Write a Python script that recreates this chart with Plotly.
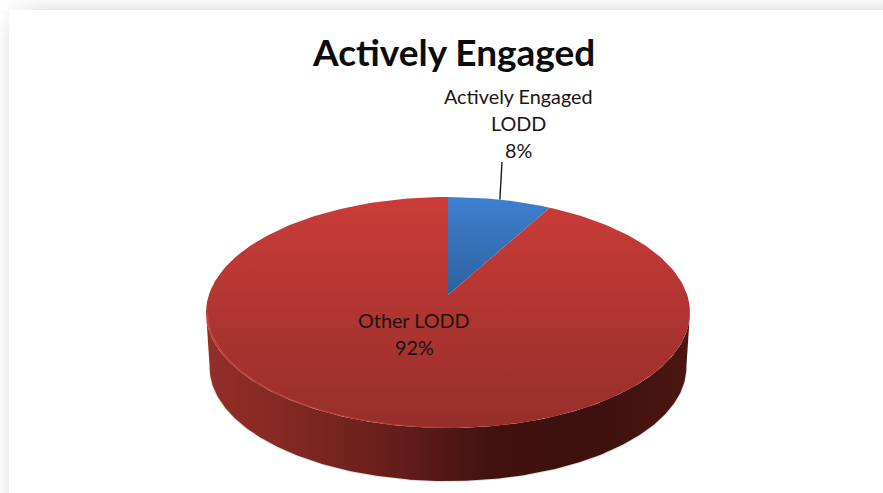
import numpy as np
import plotly.graph_objects as go

# Chart content
title = "Actively Engaged"
categories = ["Actively Engaged LODD", "Other LODD"]
values = [8, 92]
label_lines = [["Actively Engaged", "LODD"], ["Other LODD"]]

# Drawing of the tilted disc, in pixel-like plot units
W, H = 883, 493
CX, HUB_Y = 448, 295
A, B, K = 239.2, 112.9, 0.1515
BASE_Y, BASE_SCALE = 350, 0.985


def project(theta, radius=1.0, hub_y=HUB_Y, scale=1.0):
    """Perspective view of a disc; theta runs clockwise from 12 o'clock."""
    u, v = radius * np.sin(theta), radius * np.cos(theta)
    w = 1 + K * v
    return CX + scale * A * u / w, hub_y - scale * B * v / w


def arc(a0, a1, n=240, **kw):
    return project(np.linspace(a0, a1, n), **kw)


def poly(x, y, stops, kind, start, stop):
    return go.Scatter(
        x=list(x), y=list(y), mode="lines", line=dict(width=0),
        fill="toself",
        fillgradient=dict(type=kind, colorscale=stops, start=start, stop=stop),
        hoverinfo="skip", showlegend=False,
    )


fig = go.Figure()

# Card shadow along the top and left page edges
fig.add_trace(poly([9, W, W, 9, 9], [0, 0, 10, 10, 0],
                   [[0, "#f8f8f8"], [1, "#e9e9e9"]], "vertical", 0, 10))
fig.add_trace(poly([0, 9, 9, 0, 0], [0, 0, H, H, 0],
                   [[0, "#fbfbfb"], [1, "#eeeeee"]], "horizontal", 0, 9))
fig.add_trace(poly([0, 45, 45, 0, 0], [0, 0, 10, 10, 0],
                   [[0, "rgba(255,255,255,0.9)"], [1, "rgba(255,255,255,0)"]],
                   "horizontal", 0, 45))
fig.add_trace(poly([0, 9, 9, 0, 0], [0, 0, 40, 40, 0],
                   [[0, "rgba(255,255,255,0.8)"], [1, "rgba(255,255,255,0)"]],
                   "vertical", 0, 40))

# Slice angles follow the values
shares = np.array(values, dtype=float) / sum(values)
edges = np.concatenate([[0], np.cumsum(shares)]) * 2 * np.pi

# Outer wall: visible part between the two silhouette points of the disc
t_right = np.arccos(-K)
t_left = 2 * np.pi - t_right
tx, ty = arc(t_right, t_left)
bx, by = arc(t_left, t_right, hub_y=BASE_Y, scale=BASE_SCALE)
wall_x = np.concatenate([tx, bx, tx[:1]])
wall_y = np.concatenate([ty, by, ty[:1]])
fig.add_trace(go.Scatter(x=list(bx), y=list(by), mode="lines",
                         line=dict(color="rgba(120,120,120,0.22)", width=2),
                         hoverinfo="skip", showlegend=False))
wall_stops = [
    [0.00, "#942e29"], [0.20, "#7f2722"], [0.42, "#611c19"],
    [0.58, "#43120f"], [0.80, "#3d110e"], [1.00, "#4c1612"],
]
fig.add_trace(poly(wall_x, wall_y, wall_stops, "horizontal", 206, 690))

# Top faces
face_stops = [
    [[0, "#3e80cf"], [1, "#2d619f"]],
    [[0, "#cb3c38"], [0.5, "#b03531"], [1, "#962e2a"]],
]
face_spans = [(197, 296), (197, 428)]
for i in range(len(values)):
    x, y = arc(edges[i], edges[i + 1])
    x = np.concatenate([[CX], x, [CX]])
    y = np.concatenate([[HUB_Y], y, [HUB_Y]])
    fig.add_trace(poly(x, y, face_stops[i], "vertical", *face_spans[i]))

# Bevel highlight on the front-left rim
ox, oy = arc(np.pi * 0.95, t_left)
ix, iy = arc(t_left, np.pi * 0.95, radius=0.992)
fig.add_trace(poly(np.concatenate([ox, ix, ox[:1]]),
                   np.concatenate([oy, iy, oy[:1]]),
                   [[0, "rgba(222,88,80,0.45)"], [0.75, "rgba(210,80,72,0.35)"],
                    [1, "rgba(210,80,72,0)"]],
                   "horizontal", 206, 460))

# Leader line from the first slice's mid angle up to its label
mid = (edges[0] + edges[1]) / 2
lx, ly = project(np.array([mid]))
fig.add_trace(go.Scatter(x=[lx[0], 502], y=[ly[0], 162], mode="lines",
                         line=dict(color="#1a1a1a", width=1.4),
                         hoverinfo="skip", showlegend=False))

# Labels
FONT = "Lato, Carlito, Calibri, sans-serif"
anchors = [(518, 96), (414, 320)]
annotations = [dict(x=453, y=51, text=f"<b>{title}</b>", showarrow=False,
                    font=dict(family=FONT, size=37, color="#0c0c0c"),
                    xanchor="center", yanchor="middle")]
for (ax, ay), lines, value in zip(anchors, label_lines, values):
    for j, line in enumerate(lines + [f"{value}%"]):
        annotations.append(dict(x=ax, y=ay + j * 27, text=line, showarrow=False,
                                font=dict(family=FONT, size=19.8, color="#1c1414"),
                                xanchor="center", yanchor="middle"))

fig.update_layout(
    width=W, height=H, margin=dict(l=0, r=0, t=0, b=0),
    paper_bgcolor="#ffffff", plot_bgcolor="#ffffff",
    xaxis=dict(range=[0, W], visible=False, fixedrange=True),
    yaxis=dict(range=[H, 0], visible=False, fixedrange=True),
    showlegend=False, annotations=annotations,
)
fig.write_html("out.html", config=dict(displayModeBar=False))
